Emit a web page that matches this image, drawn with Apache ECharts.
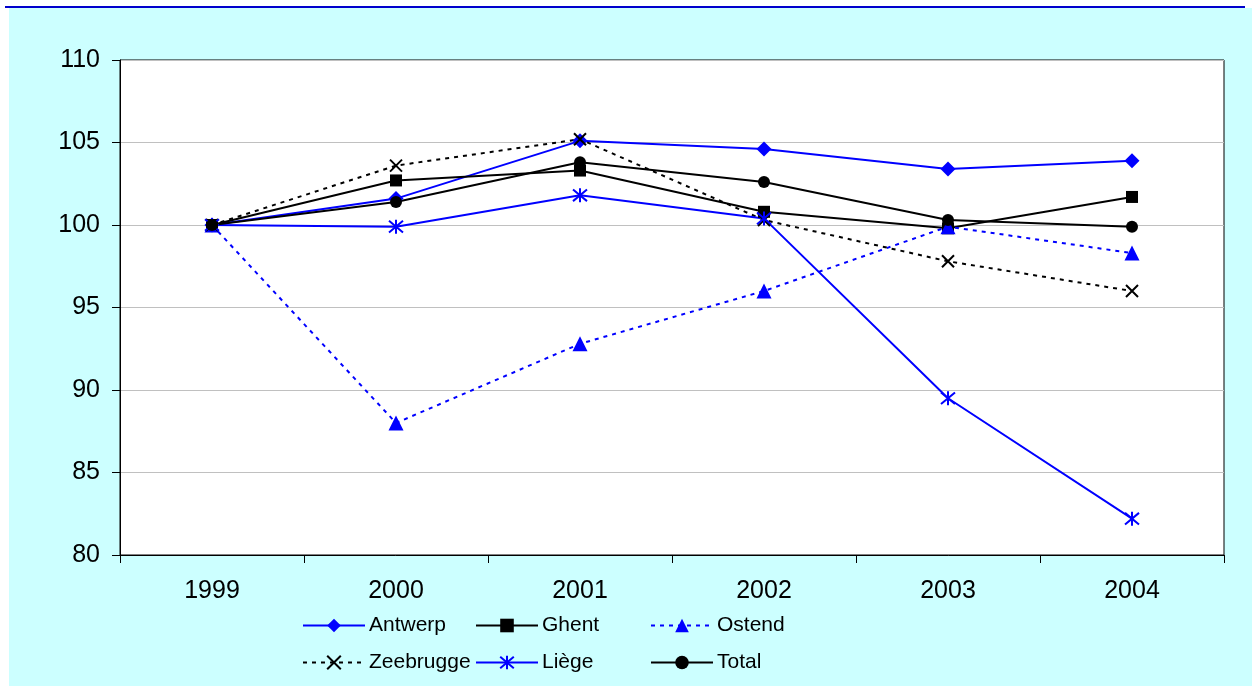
<!DOCTYPE html>
<html>
<head>
<meta charset="utf-8">
<script src="https://cdn.jsdelivr.net/npm/echarts@6/dist/echarts.min.js"></script>
<style>
html,body{margin:0;padding:0;background:#fff;}
#c{width:1252px;height:686px;}
</style>
</head>
<body>
<div id="c"></div>
<script>
var years = ['1999','2000','2001','2002','2003','2004'];
var seriesNames = ['Antwerp','Ghent','Ostend','Zeebrugge','Liège','Total'];
var antwerp   = [100, 101.6, 105.1, 104.6, 103.4, 103.9];
var ghent     = [100, 102.7, 103.3, 100.8, 99.8, 101.7];
var ostend    = [100, 88.0, 92.8, 96.0, 99.9, 98.3];
var zeebrugge = [100, 103.6, 105.2, 100.3, 97.8, 96.0];
var liege     = [100, 99.9, 101.8, 100.4, 89.5, 82.2];
var total     = [100, 101.4, 103.8, 102.6, 100.3, 99.9];
var yTicks = [80, 85, 90, 95, 100, 105, 110];

var BLUE = '#0000FF', BLACK = '#000000';
var X_PATH = 'path://M0,0L10,10M10,0L0,10';
var STAR_PATH = 'path://M5,-1L5,11M0,0L10,10M10,0L0,10';

function mk(name, data, color, symbol, size, dashed, stroked) {
  return {
    name: name, type: 'line', data: data,
    symbol: symbol, symbolSize: size,
    showSymbol: true,
    lineStyle: {color: color, width: 2, type: dashed ? [4, 5] : 'solid'},
    itemStyle: stroked ? {color: 'none', borderColor: color, borderWidth: 2}
                       : {color: color, borderWidth: 0},
    emphasis: {disabled: true},
    animation: false
  };
}

var series = [
  mk(seriesNames[0], antwerp, BLUE, 'diamond', 15, false, false),
  mk(seriesNames[1], ghent, BLACK, 'rect', 12, false, false),
  mk(seriesNames[2], ostend, BLUE, 'triangle', 15, true, false),
  mk(seriesNames[3], zeebrugge, BLACK, X_PATH, 12, true, true),
  mk(seriesNames[4], liege, BLUE, STAR_PATH, 14, false, true),
  mk(seriesNames[5], total, BLACK, 'circle', 12, false, false)
];

var legendLeft = [302, 475, 650];
var legendTop = [615, 652];
var legends = seriesNames.map(function (n, i) {
  return {
    data: [n],
    left: legendLeft[i % 3],
    top: legendTop[Math.floor(i / 3)],
    itemWidth: 62, itemHeight: 17,
    itemGap: 0,
    textStyle: {fontFamily: 'Liberation Sans, Arial, sans-serif', fontSize: 21, color: '#000', padding: [0, 0, 0, -1]},
    selectedMode: false,
    padding: 0
  };
});

var chart = echarts.init(document.getElementById('c'), null, {renderer: 'canvas'});
chart.setOption({
  backgroundColor: '#ffffff',
  animation: false,
  graphic: [
    {type: 'rect', z: -100, silent: true, shape: {x: 9, y: 8, width: 1243, height: 678}, style: {fill: '#CCFFFF'}},
    {type: 'line', z: -99, silent: true, shape: {x1: 5, y1: 7, x2: 1245, y2: 7}, style: {stroke: '#0000CC', lineWidth: 2}}
  ],
  grid: {
    left: 120, top: 60, right: 28, bottom: 131,
    show: true, backgroundColor: '#ffffff', borderColor: '#000', borderWidth: 1
  },
  legend: legends,
  xAxis: {
    type: 'category', data: years, boundaryGap: true,
    axisLine: {lineStyle: {color: '#000', width: 1}},
    axisTick: {show: true, inside: false, length: 8, alignWithLabel: false, lineStyle: {color: '#000'}},
    axisLabel: {fontFamily: 'Liberation Sans, Arial, sans-serif', fontSize: 25, color: '#000', margin: 24},
    splitLine: {show: false}
  },
  yAxis: {
    type: 'value', min: yTicks[0], max: yTicks[yTicks.length - 1], interval: 5,
    axisLine: {show: true, lineStyle: {color: '#000', width: 1}},
    axisTick: {show: true, inside: false, length: 8, lineStyle: {color: '#000'}},
    axisLabel: {fontFamily: 'Liberation Sans, Arial, sans-serif', fontSize: 25, color: '#000', margin: 20},
    splitLine: {show: true, lineStyle: {color: '#C0C0C0', width: 1}}
  },
  series: series
});
</script>
</body>
</html>
